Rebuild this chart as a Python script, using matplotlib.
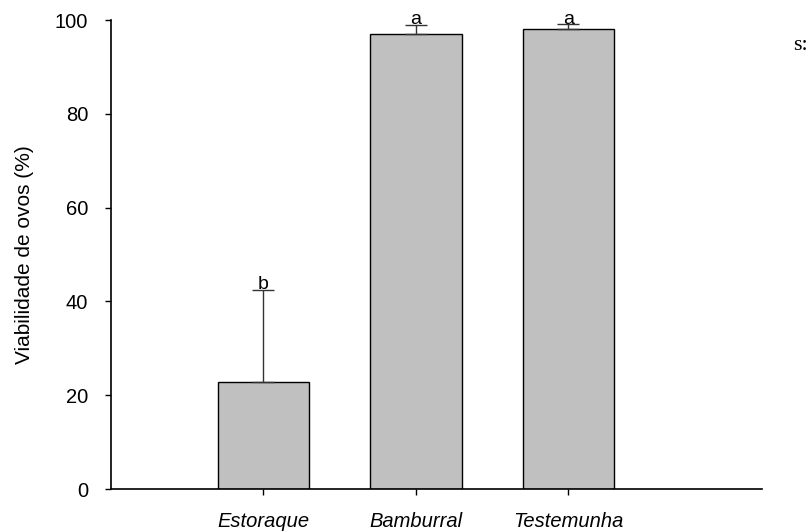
import matplotlib
matplotlib.use("Agg")
import matplotlib.pyplot as plt

categories = ["Estoraque", "Bamburral", "Testemunha"]
values = [22.9, 97.0, 98.0]
errors_up = [19.5, 2.0, 1.1]
letters = ["b", "a", "a"]
yticks = [0, 20, 40, 60, 80, 100]

plt.rcParams['font.family'] = ['Liberation Sans', 'DejaVu Sans']

fig = plt.figure(figsize=(8.11, 5.32), dpi=100)
ax = fig.add_axes([0.1369, 0.0808, 0.9396 - 0.1369, 0.9624 - 0.0808])

x = [1, 2, 3]
ax.bar(x, values, width=0.6, color="#c0c0c0", edgecolor="black", linewidth=1.0, zorder=2)
ax.errorbar(x, values, yerr=[[0, 0, 0], errors_up], fmt="none", ecolor="#333333",
            elinewidth=1.0, capsize=8, capthick=1.0, zorder=3)
for xi, v, e, l in zip(x, values, errors_up, letters):
    ax.text(xi, v + e - 0.7, l, ha="center", va="bottom", fontsize=14)

ax.set_xlim(0, 4.27)
ax.set_ylim(0, 100)
ax.set_yticks(yticks)
ax.set_xticks(x)
ax.set_xticklabels(categories, fontstyle="italic", fontsize=14.5)
ax.tick_params(axis="y", labelsize=14.5, direction="out", length=4.5, width=1, pad=12)
ax.tick_params(axis="x", direction="out", length=4.5, width=1, pad=12)
ax.set_ylabel("Viabilidade de ovos (%)", fontsize=15)
ax.yaxis.set_label_coords(-0.119, 0.5)
for s in ["top", "right"]:
    ax.spines[s].set_visible(False)
for s in ["left", "bottom"]:
    ax.spines[s].set_linewidth(1.2)

fig.text(0.996, 0.915, "s:", fontsize=16, family="Liberation Serif", ha="right", va="center")

fig.savefig("out.png", dpi=100)
